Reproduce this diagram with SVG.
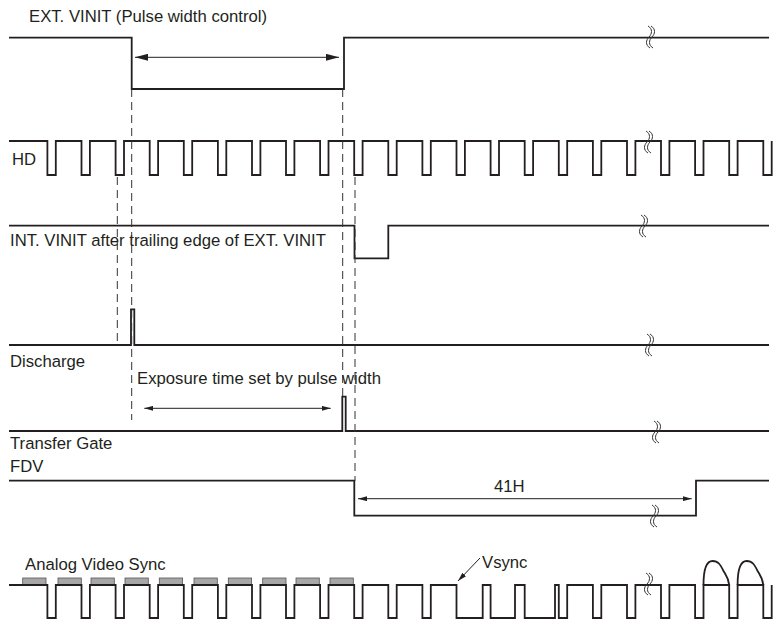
<svg xmlns="http://www.w3.org/2000/svg" xmlns:xlink="http://www.w3.org/1999/xlink" width="773" height="623" viewBox="0 0 773 623">
<style>
.sig{fill:none;stroke:#231f20;stroke-width:1.8;stroke-linejoin:miter}
.dash{fill:none;stroke:#333;stroke-width:1;stroke-dasharray:8 5}
.arr{fill:none;stroke:#231f20;stroke-width:1}
.brk{fill:none;stroke:#333;stroke-width:1}
.lbl{font-family:"Liberation Sans",Arial,sans-serif;font-size:16.7px;fill:#231f20}
.gray{fill:#a7a7a7;stroke:#555;stroke-width:0.8}
</style>
<defs>
<marker id="ah-big" markerUnits="userSpaceOnUse" viewBox="0 0 13 7" markerWidth="13" markerHeight="7" refX="13" refY="3.5" orient="auto-start-reverse"><path d="M0,0 L13,3.5 L0,7 z" fill="#231f20"/></marker>
<marker id="ah-sm" markerUnits="userSpaceOnUse" viewBox="0 0 9 5" markerWidth="9" markerHeight="5" refX="9" refY="2.5" orient="auto-start-reverse"><path d="M0,0 L9,2.5 L0,5 z" fill="#231f20"/></marker>
<path id="brkmark" d="M-1,-11 C4,-8 3,-3 0,0 C-3,3 -4,8 1,11 M2,-11 C7,-8 6,-3 3,0 C0,3 -1,8 4,11"/>
</defs>
<rect width="773" height="623" fill="#fff"/>

<g id="ext-vinit">
<text class="lbl" x="29" y="22">EXT. VINIT (Pulse width control)</text>
<path class="sig" d="M9,37.7 H131.7 V89 H344 V37.7 H769"/>
<use href="#brkmark" class="brk" transform="translate(649,37)"/>
</g>

<g id="hd">
<text class="lbl" x="12" y="165">HD</text>
<path class="sig" d="M9,141 H47.4 V175 H55.8 V141 H81.5 V175 H89.9 V141 H115.6 V175 H124 V141 H149.7 V175 H158.1 V141 H183.8 V175 H192.2 V141 H217.9 V175 H226.3 V141 H252 V175 H260.4 V141 H286 V175 H294.4 V141 H320.1 V175 H328.5 V141 H354.2 V175 H362.6 V141 H388.3 V175 H396.7 V141 H422.4 V175 H430.8 V141 H456.5 V175 H464.9 V141 H490.6 V175 H499 V141 H524.7 V175 H533.1 V141 H558.8 V175 H567.2 V141 H592.9 V175 H601.3 V141 H627 V175 H635.4 V141 H661 V175 H669.4 V141 H695.1 V175 H703.5 V141 H729.2 V175 H737.6 V141 H763.3 V175 H771.7 V141"/>
<use href="#brkmark" class="brk" transform="translate(647,142)"/>
</g>

<g id="int-vinit">
<text class="lbl" x="10" y="246">INT. VINIT after trailing edge of EXT. VINIT</text>
<path class="sig" d="M9,225.7 H354.5 V258.3 H388.3 V225.7 H769"/>
<use href="#brkmark" class="brk" transform="translate(642,226)"/>
</g>

<g id="discharge">
<text class="lbl" x="10" y="367">Discharge</text>
<path class="sig" d="M9,345 H131 V309.3 H134.3 V345 H769"/>
<use href="#brkmark" class="brk" transform="translate(648,345)"/>
</g>

<g id="transfer-gate">
<text class="lbl" x="10" y="449">Transfer Gate</text>
<path class="sig" d="M9,431 H342.3 V396.7 H345.7 V431 H769"/>
<use href="#brkmark" class="brk" transform="translate(655,432)"/>
</g>

<g id="fdv">
<text class="lbl" x="10" y="472">FDV</text>
<path class="sig" d="M9,480.7 H354.3 V515.7 H696 V480.7 H769"/>
<use href="#brkmark" class="brk" transform="translate(653,516)"/>
</g>

<g id="analog-video-sync">
<text class="lbl" x="25" y="570">Analog Video Sync</text>
<rect class="gray" x="22.7" y="578" width="23.3" height="7"/>
<rect class="gray" x="58" y="578" width="23.3" height="7"/>
<rect class="gray" x="91" y="578" width="23.3" height="7"/>
<rect class="gray" x="125" y="578" width="23.3" height="7"/>
<rect class="gray" x="159.3" y="578" width="23.3" height="7"/>
<rect class="gray" x="194" y="578" width="23.3" height="7"/>
<rect class="gray" x="228.3" y="578" width="23.3" height="7"/>
<rect class="gray" x="262.7" y="578" width="23.3" height="7"/>
<rect class="gray" x="296" y="578" width="23.3" height="7"/>
<rect class="gray" x="330" y="578" width="23.3" height="7"/>
<path class="sig" d="M9,585 H47.4 V618 H55.8 V585 H81.5 V618 H89.9 V585 H115.6 V618 H124 V585 H149.7 V618 H158.1 V585 H183.8 V618 H192.2 V585 H217.9 V618 H226.3 V585 H252 V618 H260.4 V585 H286 V618 H294.4 V585 H320.1 V618 H328.5 V585 H354.2 V618 H362.6 V585 H388.3 V618 H396.7 V585 H422.4 V618 H430.8 V585 H456.5 V618 H482.7 V585 H490.6 V618 H515 V585 H524.7 V618 H555 V585 H558.8 V618 H567.2 V585 H592.9 V618 H601.3 V585 H627 V618 H635.4 V585 H661 V618 H669.4 V585 H695.1 V618 H703.5 V585 H729.2 V618 H737.6 V585 H763.3 V618 H771.7 V585"/>
<path class="sig" d="M703.5,585 C703.5,570 706.5,561 712.5,561 C718.5,561 720.5,565 723.5,571 C726.5,576 728.5,578 729.2,585"/>
<path class="sig" d="M737.6,585 C737.6,570 740.6,561 746.6,561 C752.6,561 754.6,565 757.6,571 C760.6,576 762.6,578 763.3,585"/>
<use href="#brkmark" class="brk" transform="translate(647,584)"/>
<text class="lbl" x="482" y="568">Vsync</text>
</g>

<g id="connectors">
<line class="dash" x1="131.7" y1="89" x2="131.7" y2="420"/>
<line class="dash" x1="342.7" y1="89" x2="342.7" y2="397"/>
<line class="dash" x1="117.3" y1="177" x2="117.3" y2="344"/>
<line class="dash" x1="355" y1="177" x2="355" y2="481"/>
<line class="arr" x1="135" y1="57.3" x2="339" y2="57.3" marker-start="url(#ah-big)" marker-end="url(#ah-big)"/>
<line class="arr" x1="144.3" y1="408.3" x2="330.7" y2="408.3" marker-start="url(#ah-sm)" marker-end="url(#ah-sm)"/>
<line class="arr" x1="358" y1="498.7" x2="691.7" y2="498.7" marker-start="url(#ah-sm)" marker-end="url(#ah-sm)"/>
<line class="arr" x1="480" y1="558" x2="458" y2="581" marker-end="url(#ah-sm)"/>
<text class="lbl" x="137" y="384">Exposure time set by pulse width</text>
<text class="lbl" x="494" y="492">41H</text>
</g>
</svg>
